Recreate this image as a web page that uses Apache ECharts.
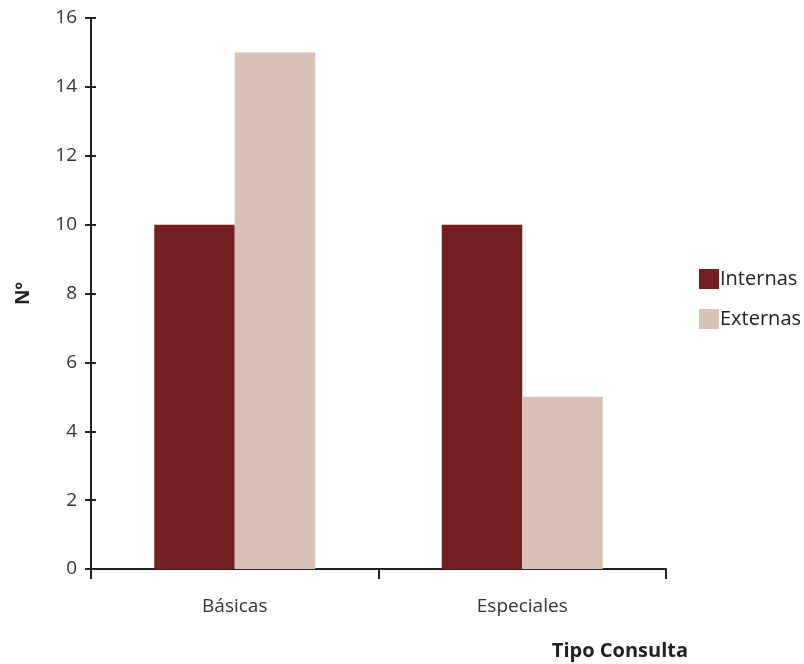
<!DOCTYPE html>
<html>
<head>
<meta charset="utf-8">
<script src="https://cdn.jsdelivr.net/npm/echarts@6/dist/echarts.min.js"></script>
<style>html,body{margin:0;padding:0;background:#fff}#c{width:804px;height:664px}</style>
</head>
<body>
<div id="c"></div>
<script>
var categories = ['Básicas', 'Especiales'];
var internas = [10, 10];
var externas = [15, 5];
var seriesNames = ['Internas', 'Externas'];

var FONT = 'Open Sans';
var chart = echarts.init(document.getElementById('c'), null, {renderer: 'canvas'});
var yCommon = {
  type: 'value', min: 0, max: 16, interval: 2, position: 'left',
  splitLine: {show: false}
};
chart.setOption({
  animation: false,
  backgroundColor: '#fff',
  textStyle: {fontFamily: FONT},
  grid: {left: 91, right: 138, top: 18, bottom: 95},
  legend: {
    orient: 'vertical', left: 694, top: 264,
    itemWidth: 20, itemHeight: 20, itemGap: 20,
    icon: 'rect',
    textStyle: {fontSize: 20, color: '#222', fontFamily: FONT, padding: [0, 0, 0, -4]},
    data: seriesNames
  },
  xAxis: {
    type: 'category', data: categories,
    axisLine: {lineStyle: {color: '#222', width: 2}},
    axisTick: {show: true, length: 10, lineStyle: {color: '#222', width: 2}},
    axisLabel: {fontSize: 19, color: '#333', margin: 28},
    name: 'Tipo Consulta', nameLocation: 'end', nameGap: 22,
    nameTextStyle: {fontSize: 20, fontWeight: 'bold', color: '#222', align: 'right', verticalAlign: 'top', padding: [72, 0, 0, 0]}
  },
  yAxis: [
    Object.assign({}, yCommon, {
      axisLine: {show: true, lineStyle: {color: '#222', width: 2}},
      axisTick: {show: true, inside: false, length: 6, lineStyle: {color: '#222', width: 2}},
      axisLabel: {fontSize: 19, color: '#333', margin: 14},
      name: 'Nº', nameLocation: 'middle', nameGap: 58, nameRotate: 90,
      nameTextStyle: {fontSize: 19, fontWeight: 'bold', color: '#222'}
    }),
    Object.assign({}, yCommon, {
      axisLine: {show: false},
      axisTick: {show: true, inside: true, length: 5, lineStyle: {color: '#222', width: 2}},
      axisLabel: {show: false}
    })
  ],
  series: [
    {name: seriesNames[0], type: 'bar', data: internas, barGap: '0%', barCategoryGap: '44%',
     itemStyle: {color: '#761f23'}},
    {name: seriesNames[1], type: 'bar', data: externas, barGap: '0%', barCategoryGap: '44%',
     itemStyle: {color: '#d8c2b8'}}
  ]
});
</script>
</body>
</html>
